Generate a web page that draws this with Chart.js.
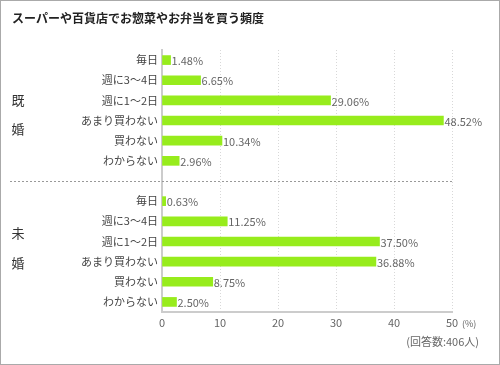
<!DOCTYPE html>
<html>
<head>
<meta charset="utf-8">
<script src="https://cdn.jsdelivr.net/npm/chart.js@4"></script>
<style>
  html, body { margin: 0; padding: 0; background: #fff; }
  canvas { display: block; }
</style>
</head>
<body>
<canvas id="myChart_freq" width="500" height="365"></canvas>
<script>
  "use strict";

  // categories (empty slot in the middle separates the two groups)
  const categories = ['毎日', '週に3〜4日', '週に1〜2日', 'あまり買わない', '買わない', 'わからない'];
  const married = [1.48, 6.65, 29.06, 48.52, 10.34, 2.96];
  const single = [0.63, 11.25, 37.50, 36.88, 8.75, 2.50];
  const groups = ['既婚', '未婚'];
  const xTicks = [0, 10, 20, 30, 40, 50];

  const labels = categories.concat(['']).concat(categories);
  const values = married.concat([null]).concat(single);

  const font = '"Noto Sans CJK JP", "Noto Sans", sans-serif';

  // border, title, group labels, divider, value labels
  const extras = {
    id: 'extras',
    beforeDraw(chart) {
      const ctx = chart.ctx;
      ctx.save();
      ctx.fillStyle = '#fff';
      ctx.fillRect(0, 0, chart.width, chart.height);
      ctx.strokeStyle = '#aaaaaa';
      ctx.lineWidth = 1;
      ctx.strokeRect(0.5, 0.5, chart.width - 1, chart.height - 1);
      ctx.restore();
    },
    afterDatasetsDraw(chart) {
      const ctx = chart.ctx;
      const area = chart.chartArea;
      const y = chart.scales.y;
      ctx.save();

      // title
      ctx.fillStyle = '#222';
      ctx.font = 'bold 12px ' + font;
      ctx.textAlign = 'left';
      ctx.textBaseline = 'middle';
      ctx.fillText('スーパーや百貨店でお惣菜やお弁当を買う頻度', 12, 18);

      // dashed divider
      const midY = Math.round(y.getPixelForValue(categories.length)) + 0.5;
      ctx.strokeStyle = '#999';
      ctx.lineWidth = 1;
      ctx.setLineDash([2, 2]);
      ctx.beginPath();
      ctx.moveTo(10, midY);
      ctx.lineTo(area.right, midY);
      ctx.stroke();
      ctx.setLineDash([]);

      // group labels (written vertically, one char per line)
      ctx.fillStyle = '#333';
      ctx.font = '13px ' + font;
      ctx.textAlign = 'center';
      const groupY = [[100, 129], [233, 263]];
      groups.forEach((g, i) => {
        ctx.fillText(g.charAt(0), 18, groupY[i][0]);
        ctx.fillText(g.charAt(1), 18, groupY[i][1]);
      });

      // value labels
      ctx.fillStyle = '#666';
      ctx.font = '11px ' + font;
      ctx.textAlign = 'left';
      chart.getDatasetMeta(0).data.forEach((bar, i) => {
        if (values[i] === null) return;
        ctx.fillText(values[i].toFixed(2) + '%', bar.x + 1, bar.y + 1);
      });

      // unit and footnote
      const x = chart.scales.x;
      ctx.font = '9px ' + font;
      ctx.fillText('(%)', x.getPixelForValue(50) + 10, 324);
      ctx.font = '11px ' + font;
      ctx.textAlign = 'right';
      ctx.fillText('(回答数:406人)', 479, 342);
      ctx.restore();
    }
  };

  const data_freq = {
    labels: labels,
    datasets: [
      {
        label: '頻度',
        data: values,
        backgroundColor: '#97ec1c',
        barThickness: 9
      }
    ]
  };

  const config_freq = {
    type: 'bar',
    data: data_freq,
    options: {
      indexAxis: 'y',
      responsive: false,
      animation: false,
      layout: {
        padding: { left: 0, right: 48, top: 50, bottom: 0 }
      },
      scales: {
        x: {
          min: 0,
          max: 50,
          afterFit: function (scale) { scale.height = 53; },
          afterBuildTicks: function (scale) {
            scale.ticks = xTicks.map(v => ({ value: v }));
          },
          grid: {
            drawTicks: false,
            color: function (c) { return c.index === 0 ? 'rgba(0,0,0,0)' : '#d8d8d8'; },
            lineWidth: 1
          },
          border: { display: true, color: '#cccccc', width: 2, dash: [1, 2] },
          ticks: {
            padding: 4,
            color: '#666',
            font: { family: font, size: 11 }
          }
        },
        y: {
          afterFit: function (scale) { scale.width = 162; },
          grid: { display: false, drawTicks: false },
          border: { display: true, color: '#cccccc', width: 2 },
          ticks: {
            padding: 4,
            color: '#444',
            font: { family: font, size: 11 },
            autoSkip: false
          }
        }
      },
      plugins: {
        legend: { display: false },
        tooltip: { enabled: false },
        title: { display: false }
      }
    },
    plugins: [extras]
  };

  const ctx_freq = document.getElementById('myChart_freq');
  const myChart_freq = new Chart(ctx_freq, config_freq);
</script>
</body>
</html>
